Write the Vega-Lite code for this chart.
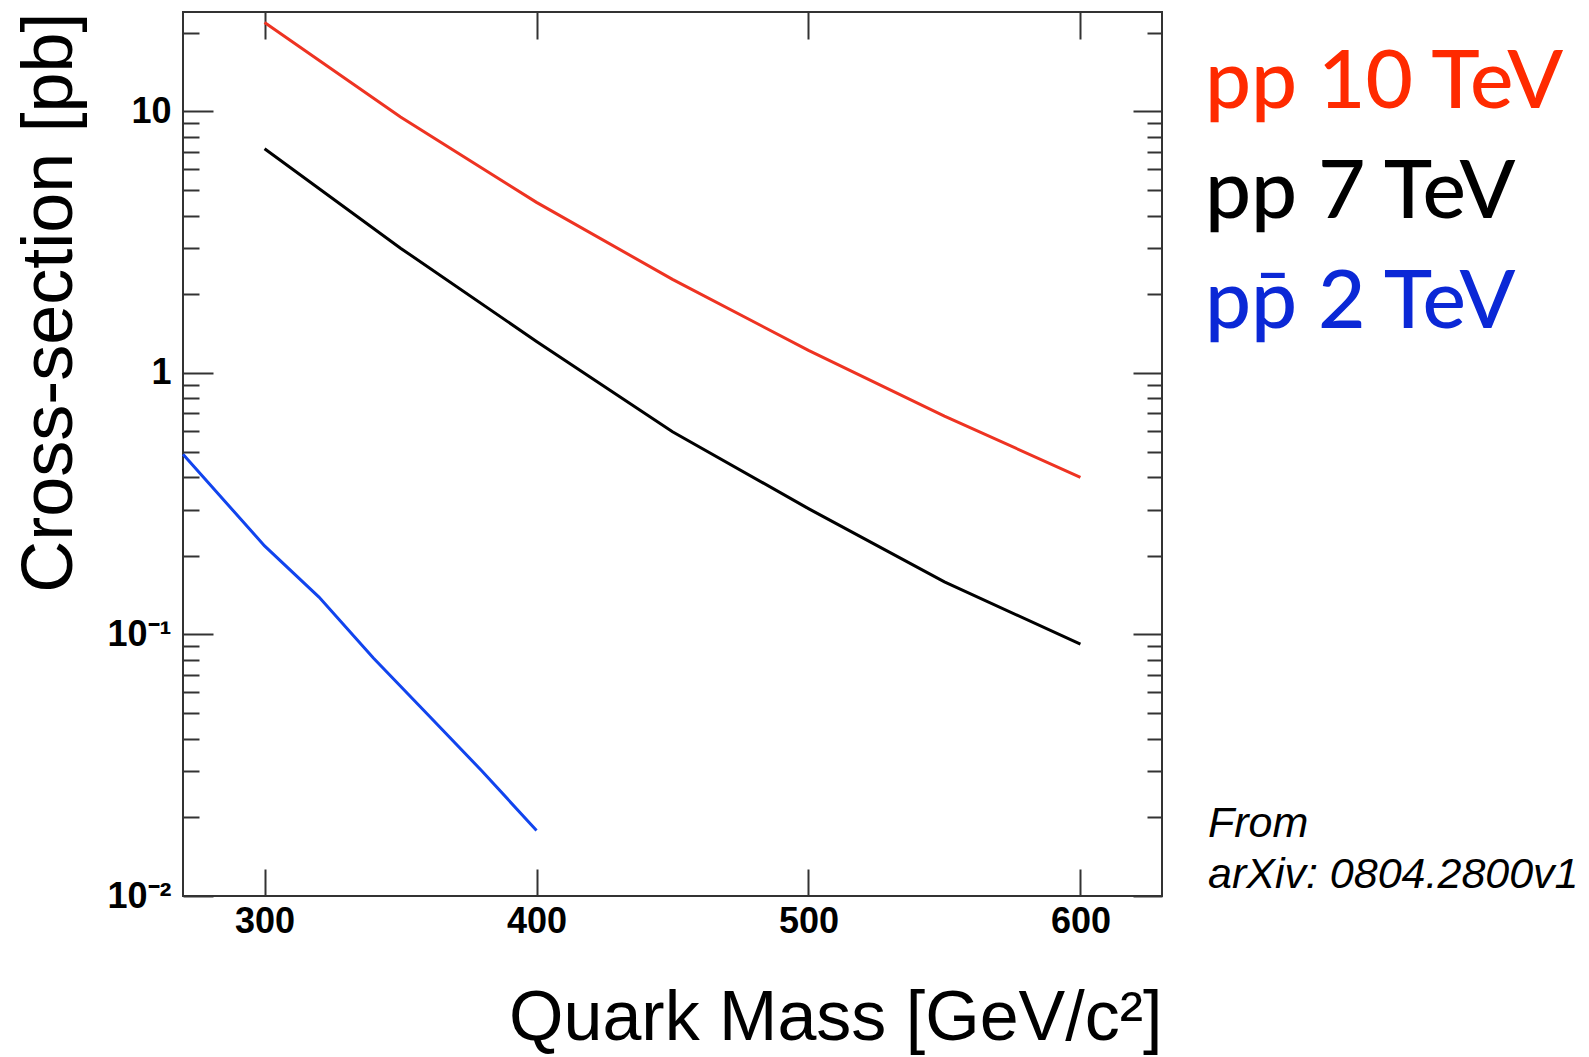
{
  "$schema": "https://vega.github.io/schema/vega-lite/v6.json",
  "width": 979,
  "height": 884,
  "autosize": {"type": "none"},
  "padding": {"left": 183, "top": 12, "right": 427, "bottom": 161},
  "background": "white",
  "config": {
    "view": {"stroke": "#333333", "strokeWidth": 2},
    "axis": {"grid": false, "domain": false, "tickColor": "#333333", "tickWidth": 2}
  },
  "title": {
    "text": ["From", "arXiv: 0804.2800v1"],
    "orient": "top",
    "anchor": "end",
    "frame": "group",
    "align": "left",
    "baseline": "alphabetic",
    "offset": 0,
    "dx": 46,
    "dy": 920,
    "font": "Liberation Sans",
    "fontSize": 43,
    "fontStyle": "italic",
    "fontWeight": "normal",
    "lineHeight": 51,
    "color": "#000000"
  },
  "data": {
    "values": [
      {"series": "pp 10 TeV", "mass": 300, "xs": 21.9},
      {"series": "pp 10 TeV", "mass": 350, "xs": 9.52},
      {"series": "pp 10 TeV", "mass": 400, "xs": 4.49},
      {"series": "pp 10 TeV", "mass": 450, "xs": 2.28},
      {"series": "pp 10 TeV", "mass": 500, "xs": 1.22},
      {"series": "pp 10 TeV", "mass": 550, "xs": 0.684},
      {"series": "pp 10 TeV", "mass": 600, "xs": 0.399},
      {"series": "pp 7 TeV", "mass": 300, "xs": 7.2},
      {"series": "pp 7 TeV", "mass": 350, "xs": 3.0},
      {"series": "pp 7 TeV", "mass": 400, "xs": 1.32},
      {"series": "pp 7 TeV", "mass": 450, "xs": 0.596},
      {"series": "pp 7 TeV", "mass": 500, "xs": 0.303},
      {"series": "pp 7 TeV", "mass": 550, "xs": 0.159},
      {"series": "pp 7 TeV", "mass": 600, "xs": 0.0918},
      {"series": "pp\u0304 2 TeV", "mass": 270, "xs": 0.489},
      {"series": "pp\u0304 2 TeV", "mass": 300, "xs": 0.218},
      {"series": "pp\u0304 2 TeV", "mass": 320, "xs": 0.139},
      {"series": "pp\u0304 2 TeV", "mass": 340, "xs": 0.0813},
      {"series": "pp\u0304 2 TeV", "mass": 360, "xs": 0.0494},
      {"series": "pp\u0304 2 TeV", "mass": 380, "xs": 0.030},
      {"series": "pp\u0304 2 TeV", "mass": 400, "xs": 0.0178}
    ]
  },
  "encoding": {
    "color": {
      "field": "series",
      "type": "nominal",
      "scale": {
        "domain": ["pp 10 TeV", "pp 7 TeV", "pp\u0304 2 TeV"],
        "range": ["#ee3322", "#000000", "#1144ee"]
      },
      "legend": {
        "orient": "none",
        "legendX": 940,
        "legendY": 30,
        "title": null,
        "padding": 0,
        "symbolSize": 0,
        "symbolStrokeWidth": 0,
        "symbolOpacity": 0,
        "labelOffset": 0,
        "labelFont": "Lato",
        "labelFontSize": 82,
        "labelFontWeight": 500,
        "labelLimit": 800,
        "rowPadding": 28,
        "labelColor": {"expr": "datum.value == 'pp 10 TeV' ? '#ff2a00' : datum.value == 'pp 7 TeV' ? '#000000' : '#0b28d6'"}
      }
    }
  },
  "layer": [
    {
      "transform": [{"filter": {"field": "series", "equal": "pp 10 TeV"}}],
      "mark": {"type": "line", "strokeWidth": 3},
      "encoding": {
        "x": {
          "field": "mass", "type": "quantitative",
          "scale": {"domain": [270, 630], "nice": false, "zero": false},
          "axis": {
            "orient": "bottom", "values": [300, 400, 500, 600], "ticks": false,
            "labelFont": "Liberation Sans", "labelFontSize": 36, "labelFontWeight": "bold",
            "labelColor": "#000000", "labelPadding": 8,
            "title": "Quark Mass [GeV/c\u00b2]", "titleFont": "Liberation Sans", "titleFontSize": 70,
            "titleFontWeight": "normal", "titleColor": "#000000", "titleAnchor": "end", "titlePadding": 45
          }
        },
        "y": {
          "field": "xs", "type": "quantitative",
          "scale": {"type": "log", "domain": [0.01, 24], "nice": false},
          "axis": {
            "orient": "left", "values": [0.01, 0.1, 1, 10], "ticks": false,
            "labelExpr": "datum.value == 10 ? '10' : datum.value == 1 ? '1' : datum.value == 0.1 ? '10\u207b\u00b9' : '10\u207b\u00b2'",
            "labelFont": "Liberation Sans", "labelFontSize": 36, "labelFontWeight": "bold",
            "labelColor": "#000000", "labelPadding": 12, "labelBaseline": "middle",
            "title": "Cross-section [pb]", "titleFont": "Liberation Sans", "titleFontSize": 72,
            "titleFontWeight": "normal", "titleColor": "#000000", "titleAnchor": "end", "titlePadding": 20
          }
        }
      }
    },
    {
      "transform": [{"filter": {"field": "series", "equal": "pp 7 TeV"}}],
      "mark": {"type": "line", "strokeWidth": 3},
      "encoding": {
        "x": {
          "field": "mass", "type": "quantitative",
          "scale": {"domain": [270, 630], "nice": false, "zero": false},
          "axis": {"orient": "bottom", "values": [300, 400, 500, 600], "labels": false, "tickSize": -27, "title": null}
        },
        "y": {
          "field": "xs", "type": "quantitative",
          "scale": {"type": "log", "domain": [0.01, 24], "nice": false},
          "axis": {
            "orient": "left",
            "values": [0.01, 0.02, 0.03, 0.04, 0.05, 0.06, 0.07, 0.08, 0.09, 0.1, 0.2, 0.3, 0.4, 0.5, 0.6, 0.7, 0.8, 0.9, 1, 2, 3, 4, 5, 6, 7, 8, 9, 10, 20],
            "labels": false, "title": null,
            "tickSize": {"condition": {"test": "datum.value == 0.01 || datum.value == 0.1 || datum.value == 1 || datum.value == 10", "value": -30}, "value": -16}
          }
        }
      }
    },
    {
      "transform": [{"filter": {"field": "series", "equal": "pp\u0304 2 TeV"}}],
      "mark": {"type": "line", "strokeWidth": 3},
      "encoding": {
        "x": {
          "field": "mass", "type": "quantitative",
          "scale": {"domain": [270, 630], "nice": false, "zero": false},
          "axis": {"orient": "top", "values": [300, 400, 500, 600], "labels": false, "tickSize": -27, "title": null}
        },
        "y": {
          "field": "xs", "type": "quantitative",
          "scale": {"type": "log", "domain": [0.01, 24], "nice": false},
          "axis": {
            "orient": "right",
            "values": [0.01, 0.02, 0.03, 0.04, 0.05, 0.06, 0.07, 0.08, 0.09, 0.1, 0.2, 0.3, 0.4, 0.5, 0.6, 0.7, 0.8, 0.9, 1, 2, 3, 4, 5, 6, 7, 8, 9, 10, 20],
            "labels": false, "title": null,
            "tickSize": {"condition": {"test": "datum.value == 0.01 || datum.value == 0.1 || datum.value == 1 || datum.value == 10", "value": -29}, "value": -15}
          }
        }
      }
    }
  ],
  "resolve": {"axis": {"x": "independent", "y": "independent"}}
}
